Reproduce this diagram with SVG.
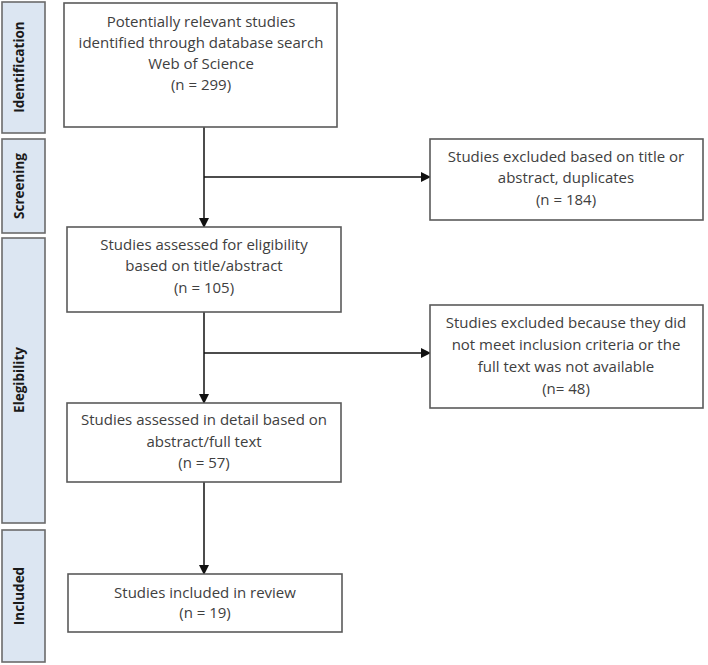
<svg xmlns="http://www.w3.org/2000/svg" width="708" height="665" viewBox="0 0 708 665">
<style>
.bar{fill:#dce6f2;stroke:#6b6b6b;stroke-width:1.6}
.box{fill:#fff;stroke:#5a5a5a;stroke-width:1.6}
.t{font-family:"Open Sans","Liberation Sans",Arial,sans-serif;font-size:15px;fill:#404040;text-anchor:middle}
.lbl{font-family:"Open Sans","Liberation Sans",Arial,sans-serif;font-size:13.5px;font-weight:bold;fill:#1a1a1a;text-anchor:middle}
.c{stroke:#111;stroke-width:1.5;fill:none}
</style>
<defs>
<marker id="ah" markerWidth="10" markerHeight="10" refX="9" refY="5" orient="auto" markerUnits="userSpaceOnUse">
<path d="M0,0 L10,5 L0,10 Z" fill="#111"/>
</marker>
</defs>
<rect width="708" height="665" fill="#fff"/>
<g id="phase-identification"><rect class="bar" x="2" y="2" width="43" height="131"/><text class="lbl" transform="translate(23.5,67) rotate(-90)">Identification</text></g>
<g id="phase-screening"><rect class="bar" x="2" y="139" width="43" height="94"/><text class="lbl" transform="translate(23.5,186) rotate(-90)">Screening</text></g>
<g id="phase-eligibility"><rect class="bar" x="2" y="238" width="43" height="285"/><text class="lbl" transform="translate(23.5,380) rotate(-90)">Elegibility</text></g>
<g id="phase-included"><rect class="bar" x="2" y="530" width="43" height="132"/><text class="lbl" transform="translate(23.5,596) rotate(-90)">Included</text></g>

<g id="connectors">
<line class="c" x1="204" y1="127" x2="204" y2="227" marker-end="url(#ah)"/>
<line class="c" x1="204" y1="177" x2="430" y2="177" marker-end="url(#ah)"/>
<line class="c" x1="204" y1="312" x2="204" y2="403" marker-end="url(#ah)"/>
<line class="c" x1="204" y1="353" x2="430" y2="353" marker-end="url(#ah)"/>
<line class="c" x1="204" y1="482" x2="204" y2="574" marker-end="url(#ah)"/>
</g>

<g id="n1"><rect class="box" x="64" y="3" width="273" height="124"/>
<text class="t" x="201" y="27">Potentially relevant studies</text>
<text class="t" x="201" y="48">identified through database search</text>
<text class="t" x="201" y="69">Web of Science</text>
<text class="t" x="201" y="90">(n = 299)</text></g>

<g id="n2"><rect class="box" x="67" y="227" width="274" height="85"/>
<text class="t" x="204" y="250">Studies assessed for eligibility</text>
<text class="t" x="204" y="271">based on title/abstract</text>
<text class="t" x="204" y="293">(n = 105)</text></g>

<g id="n3"><rect class="box" x="67" y="403" width="274" height="79"/>
<text class="t" x="204" y="425">Studies assessed in detail based on</text>
<text class="t" x="204" y="447">abstract/full text</text>
<text class="t" x="204" y="468">(n = 57)</text></g>

<g id="n4"><rect class="box" x="68" y="574" width="274" height="58"/>
<text class="t" x="205" y="598">Studies included in review</text>
<text class="t" x="205" y="618">(n = 19)</text></g>

<g id="x1"><rect class="box" x="430" y="139" width="273" height="81"/>
<text class="t" x="566" y="162">Studies excluded based on title or</text>
<text class="t" x="566" y="183">abstract, duplicates</text>
<text class="t" x="566" y="205">(n = 184)</text></g>

<g id="x2"><rect class="box" x="430" y="305" width="273" height="103"/>
<text class="t" x="566" y="328">Studies excluded because they did</text>
<text class="t" x="566" y="350">not meet inclusion criteria or the</text>
<text class="t" x="566" y="372">full text was not available</text>
<text class="t" x="566" y="394">(n= 48)</text></g>
</svg>
